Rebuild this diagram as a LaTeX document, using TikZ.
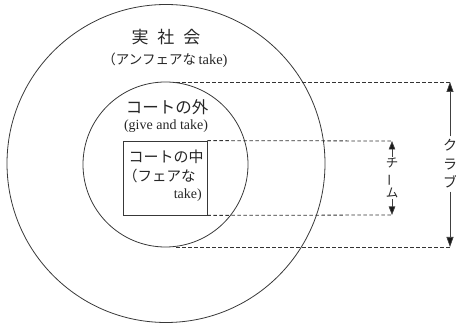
\documentclass[tikz,border=0pt]{standalone}
\usepackage{fontspec}
\usepackage{graphicx}
\setmainfont{Liberation Serif}
\newfontfamily\jp{Noto Sans CJK JP}
\usetikzlibrary{arrows.meta}
\begin{document}
\begin{tikzpicture}[x=1pt,y=-1pt,
  ink/.style={draw=black!78, line width=0.8pt},
  ring/.style={ink, circle, inner sep=0pt},
  courtbox/.style={ink, rectangle, inner sep=0pt},
  guide/.style={draw=black!80, line width=0.8pt, dash pattern=on 3.5pt off 2.5pt},
  dimarrow/.style={draw=black!75, line width=0.7pt, -{Triangle[length=10pt,width=7pt,fill=black!90]}},
  smallarrow/.style={draw=black!75, line width=0.7pt, -{Triangle[length=8.5pt,width=6.5pt,fill=black!90]}},
  lbl/.style={text=black!85, inner sep=0pt},
]
\useasboundingbox (0,0) rectangle (456,323);
% shapes
\node[ring, minimum size=318pt] (society) at (166,163.5) {};
\node[ring, minimum size=165pt] (outside) at (165.5,164.5) {};
\node[courtbox, minimum width=84pt, minimum height=74pt] (court) at (165,178) {};
% labels
\node[lbl, font=\jp\fontsize{17}{17}\selectfont] (soclbl) at (166,37) {実\hspace{9pt}社\hspace{9pt}会};
\node[lbl] (socsub) at (165,60) {{\jp\fontsize{13.5}{13.5}\selectfont （アンフェアな}\ {\fontsize{14.5}{14.5}\selectfont take)}};
\node[lbl, font=\jp\fontsize{16.5}{16.5}\selectfont] (outlbl) at (167,107) {コートの外};
\node[lbl, font=\fontsize{14}{14}\selectfont] (outsub) at (166,126) {(give and take)};
\node[lbl, font=\jp\fontsize{15}{15}\selectfont] (inlbl) at (166,157) {コートの中};
\node[lbl, anchor=west, font=\jp\fontsize{14.5}{14.5}\selectfont] (insub) at (123,176) {（フェアな};
\node[lbl, anchor=east, font=\fontsize{14}{14}\selectfont] (insub2) at (202,195) {take)};
% dimension guides
\coordinate (clubtop) at (450,82);
\coordinate (clubbot) at (450,247);
\coordinate (clubtopstart) at (176,82);
\coordinate (clubbotstart) at (176,247);
\coordinate (teamtop) at (392,141);
\coordinate (teambot) at (392,215);
\draw[guide] (clubtopstart) -- (clubtop);
\draw[guide] (clubbotstart) -- (clubbot);
\draw[guide] (court.north east) -- (teamtop);
\draw[guide] (court.south east) -- (teambot);
% club
\node[lbl, align=center, font=\jp\fontsize{14}{18.5}\selectfont, inner sep=3pt] (clubtxt) at (450,164) {ク\\ラ\\ブ};
\draw[dimarrow] (clubtxt.north) -- (clubtop);
\draw[dimarrow] (clubtxt.south) -- (clubbot);
% team
\node[lbl, align=center, font=\jp\fontsize{12.5}{15}\selectfont, inner sep=1pt] (teamtxt) at (392,178) {チ\\\rotatebox[origin=c]{90}{ー}\\ム};
\draw[smallarrow] (teamtxt.north) -- (teamtop);
\draw[smallarrow] (teamtxt.south) -- (teambot);
\end{tikzpicture}
\end{document}
